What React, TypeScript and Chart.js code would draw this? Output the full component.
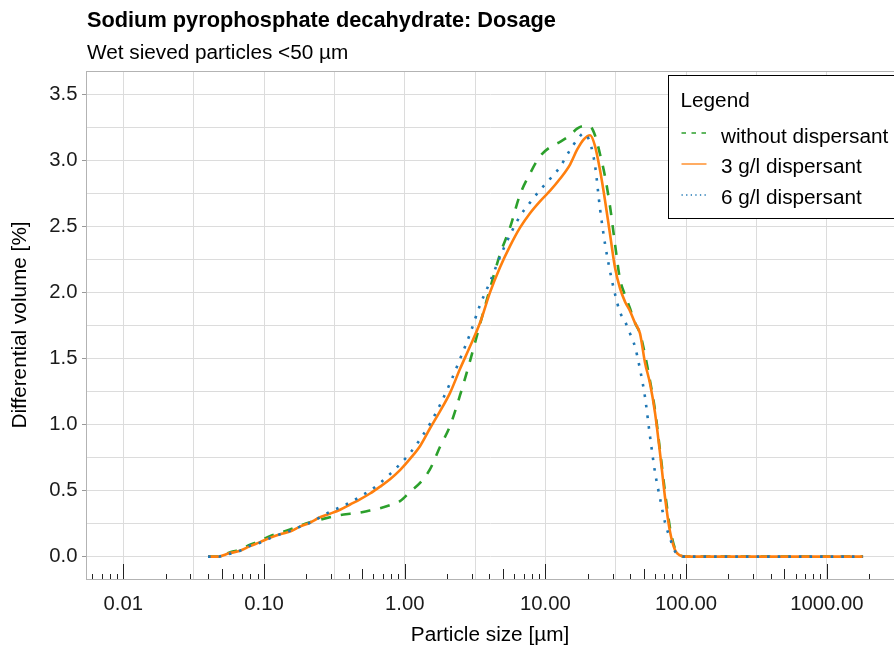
import React, { useEffect, useRef } from "react";
import { Chart, registerables } from "chart.js";

Chart.register(...registerables);

const TITLE = "Sodium pyrophosphate decahydrate: Dosage";
const SUBTITLE = "Wet sieved particles <50 µm";
const X_TITLE = "Particle size [µm]";
const Y_TITLE = "Differential volume [%]";
const LEGEND_TITLE = "Legend";
const SERIES_LABELS = ["without dispersant", "3 g/l dispersant", "6 g/l dispersant"];
const SERIES_COLORS = ["#2ca02c", "#ff7f0e", "#1f77b4"];

// particle size classes (µm)
const particleSizes = [
  0.04, 0.0471, 0.0564, 0.0675, 0.0795, 0.0937, 0.11, 0.13, 0.153, 0.18,
  0.212, 0.25, 0.294, 0.347, 0.409, 0.481, 0.567, 0.668, 0.786, 0.926,
  1.09, 1.29, 1.51, 1.78, 2.1, 2.47, 2.91, 3.43, 4.04, 4.76,
  5.6, 6.6, 7.77, 9.15, 10.8, 12.7, 15.0, 16.8, 18.8, 20.8,
  22.5, 24.4, 26.5, 28.8, 31.2, 33.9, 36.8, 39.9, 43.3, 47.0,
  51.0, 55.4, 60.1, 65.3, 70.8, 76.8, 83.4, 90.5, 99.8, 126,
  285, 645, 1810,
];

const withoutDispersant = [
  0, 0, 0.03, 0.055, 0.09, 0.12, 0.155, 0.18, 0.205, 0.235,
  0.26, 0.28, 0.298, 0.315, 0.325, 0.333, 0.35, 0.367, 0.39, 0.42,
  0.49, 0.56, 0.66, 0.83, 0.99, 1.22, 1.48, 1.76, 2.03, 2.29,
  2.49, 2.74, 2.9, 3.03, 3.1, 3.14, 3.19, 3.24, 3.26, 3.255,
  3.19, 3.05, 2.88, 2.65, 2.37, 2.1, 1.98, 1.88, 1.77, 1.69,
  1.53, 1.33, 1.11, 0.8, 0.49, 0.22, 0.06, 0.012, 0, 0,
  0, 0, 0,
];

const dispersant3 = [
  0, 0, 0.025, 0.045, 0.08, 0.11, 0.142, 0.169, 0.19, 0.227,
  0.257, 0.298, 0.325, 0.355, 0.395, 0.434, 0.478, 0.53, 0.586, 0.655,
  0.74, 0.84, 0.97, 1.1, 1.24, 1.42, 1.59, 1.77, 2.0, 2.19,
  2.35, 2.49, 2.6, 2.69, 2.77, 2.86, 2.97, 3.08, 3.16, 3.19,
  3.11, 2.93, 2.7, 2.44, 2.19, 2.03, 1.93, 1.86, 1.77, 1.69,
  1.47, 1.31, 1.09, 0.78, 0.45, 0.19, 0.05, 0.01, 0, 0,
  0, 0, 0,
];

const dispersant6 = [
  0, 0, 0.02, 0.045, 0.083, 0.106, 0.139, 0.17, 0.195, 0.227,
  0.257, 0.298, 0.34, 0.374, 0.41, 0.454, 0.5, 0.557, 0.625, 0.7,
  0.783, 0.89, 1.005, 1.148, 1.313, 1.495, 1.686, 1.905, 2.08, 2.27,
  2.435, 2.577, 2.68, 2.775, 2.86, 2.95, 3.08, 3.155, 3.205, 3.13,
  2.965, 2.64, 2.37, 2.16, 1.99, 1.85, 1.78, 1.69, 1.59, 1.42,
  1.21, 0.91, 0.64, 0.44, 0.26, 0.14, 0.04, 0.005, 0, 0,
  0, 0, 0,
];

// axis ticks
const xLabelValues = [0.01, 0.1, 1, 10, 100, 1000];
const xGridValues = [0.01, 0.0316228, 0.1, 0.316228, 1, 3.16228, 10, 31.6228, 100, 316.228, 1000];
const yGridValues = [0, 0.25, 0.5, 0.75, 1, 1.25, 1.5, 1.75, 2, 2.25, 2.5, 2.75, 3, 3.25, 3.5];

const X_MIN = 0.00543;
const X_MAX = 3003;
const Y_MIN = -0.169;
const Y_MAX = 3.676;

const FONT = '"Liberation Sans", Arial, Helvetica, sans-serif';
const GRID = "#dcdcdc";
const BORDER = "#b3b3b3";
const TEXT = "#1a1a1a";
const TEXT_SIZE = 20.75;
const TICK_SIZE = 20.3;

const isLabelX = (v: number) => xLabelValues.some((l) => Math.abs(Math.log10(v) - Math.log10(l)) < 1e-6);
const isLabelY = (v: number) => Math.abs(v * 2 - Math.round(v * 2)) < 1e-9;

const decorPlugin = {
  id: "decor",
  afterDraw(chart: any) {
    const { ctx, chartArea } = chart;
    const xs = chart.scales.x;
    ctx.save();
    // panel top border
    ctx.strokeStyle = BORDER;
    ctx.lineWidth = 1;
    ctx.beginPath();
    const ty = Math.round(chartArea.top) + 0.5;
    ctx.moveTo(chartArea.left, ty);
    ctx.lineTo(chartArea.right, ty);
    ctx.stroke();

    // log ticks at bottom of the panel
    ctx.strokeStyle = "#222";
    ctx.lineWidth = 1;
    const bottom = chartArea.bottom;
    for (let e = -3; e <= 3; e++) {
      for (let m = 1; m <= 9; m++) {
        const v = m * Math.pow(10, e);
        if (v < xs.min || v > xs.max) continue;
        const px = Math.round(xs.getPixelForValue(v)) + 0.5;
        const len = m === 1 ? 15 : m === 5 ? 10 : 5;
        ctx.beginPath();
        ctx.moveTo(px, bottom);
        ctx.lineTo(px, bottom - len);
        ctx.stroke();
      }
    }

    // title & subtitle
    ctx.fillStyle = "#000";
    ctx.textAlign = "left";
    ctx.textBaseline = "alphabetic";
    ctx.font = `bold 21.75px ${FONT}`;
    ctx.fillText(TITLE, chartArea.left + 1, 27);
    ctx.font = `${TEXT_SIZE}px ${FONT}`;
    ctx.fillText(SUBTITLE, chartArea.left + 1, 59);

    // legend
    const lx = 668.5;
    const ly = 75.5;
    const lw = 240;
    const lh = 143;
    ctx.fillStyle = "#fff";
    ctx.fillRect(lx, ly, lw, lh);
    ctx.strokeStyle = "#000";
    ctx.lineWidth = 1;
    ctx.strokeRect(lx, ly, lw, lh);
    ctx.fillStyle = "#000";
    ctx.font = `${TEXT_SIZE}px ${FONT}`;
    ctx.fillText(LEGEND_TITLE, lx + 12, 106.5);
    const dashes = [[4.5, 5.5], [], [1.3, 3.3]];
    const lineYs = [133, 164, 195];
    const textYs = [142.8, 173.3, 203.8];
    SERIES_LABELS.forEach((label, i) => {
      ctx.strokeStyle = SERIES_COLORS[i];
      ctx.lineWidth = 1.3;
      ctx.setLineDash(dashes[i]);
      ctx.beginPath();
      ctx.moveTo(lx + 13, lineYs[i]);
      ctx.lineTo(lx + 38, lineYs[i]);
      ctx.stroke();
      ctx.setLineDash([]);
      ctx.fillStyle = "#000";
      ctx.fillText(label, lx + 52.5, textYs[i]);
    });
    ctx.restore();
  },
};

export default function App() {
  const canvasRef = useRef<HTMLCanvasElement | null>(null);

  useEffect(() => {
    document.body.style.margin = "0";
    const canvas = canvasRef.current;
    if (!canvas) return;
    const seriesValues = [withoutDispersant, dispersant3, dispersant6];
    const dashes = [[10, 10], [], [2.6, 8]];
    const orders = [2, 1, 0];
    const datasets = SERIES_LABELS.map((label, i) => ({
      label,
      data: particleSizes.map((s, j) => ({ x: s, y: seriesValues[i][j] })),
      borderColor: SERIES_COLORS[i],
      backgroundColor: SERIES_COLORS[i],
      borderWidth: 2.6,
      borderDash: dashes[i],
      borderCapStyle: "butt" as const,
      pointRadius: 0,
      fill: false,
      cubicInterpolationMode: "monotone" as const,
      order: orders[i],
    }));

    const chart = new Chart(canvas, {
      type: "line",
      data: { datasets },
      options: {
        animation: false,
        responsive: false,
        devicePixelRatio: 1,
        layout: { padding: { top: 71, left: 0, right: 0, bottom: 0 } },
        font: { family: FONT },
        plugins: {
          legend: { display: false },
          tooltip: { enabled: false },
          title: { display: false },
        },
        scales: {
          x: {
            type: "logarithmic",
            min: X_MIN,
            max: X_MAX,
            afterBuildTicks: (scale: any) => {
              scale.ticks = xGridValues
                .filter((v) => v >= scale.min && v <= scale.max)
                .map((v) => ({ value: v }));
            },
            afterFit: (scale: any) => {
              scale.height = 74;
            },
            ticks: {
              autoSkip: false,
              maxRotation: 0,
              minRotation: 0,
              padding: 13,
              color: TEXT,
              font: { size: TICK_SIZE, family: FONT },
              callback: (v: any) => (isLabelX(Number(v)) ? Number(v).toFixed(2) : ""),
            },
            grid: { color: GRID, lineWidth: 1, drawTicks: false },
            border: { display: true, color: BORDER, width: 1 },
            title: {
              display: true,
              text: X_TITLE,
              color: "#000",
              font: { size: TEXT_SIZE, family: FONT },
              padding: { top: 0, bottom: 5 },
            },
          },
          y: {
            type: "linear",
            min: Y_MIN,
            max: Y_MAX,
            afterBuildTicks: (scale: any) => {
              scale.ticks = yGridValues.map((v) => ({ value: v }));
            },
            afterFit: (scale: any) => {
              scale.width = 86;
            },
            ticks: {
              autoSkip: false,
              padding: 4.5,
              color: TEXT,
              font: { size: TICK_SIZE, family: FONT },
              callback: (v: any) => (isLabelY(Number(v)) ? Number(v).toFixed(1) : ""),
            },
            grid: {
              color: GRID,
              lineWidth: 1,
              tickLength: 4,
              tickColor: (ctx: any) =>
                ctx.tick && isLabelY(ctx.tick.value) ? "#999" : "rgba(0,0,0,0)",
            },
            border: { display: true, color: BORDER, width: 1 },
            title: {
              display: true,
              text: Y_TITLE,
              color: "#000",
              font: { size: TEXT_SIZE, family: FONT },
              padding: { top: 8, bottom: 0 },
            },
          },
        },
      },
      plugins: [decorPlugin],
    });
    return () => chart.destroy();
  }, []);

  return (
    <div style={{ width: 894, height: 653, overflow: "hidden" }}>
      <canvas ref={canvasRef} width={894} height={653} style={{ display: "block" }} />
    </div>
  );
}
